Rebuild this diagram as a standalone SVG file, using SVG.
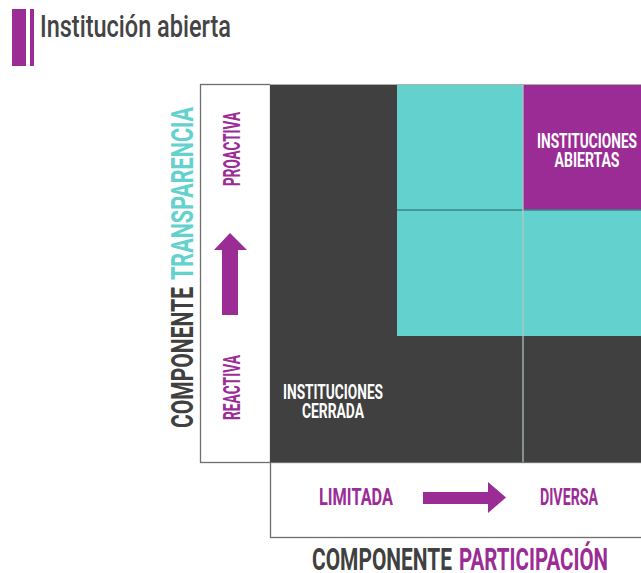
<svg xmlns="http://www.w3.org/2000/svg" width="641" height="573" viewBox="0 0 641 573">
<defs>
<style>
text{font-family:"Roboto","Liberation Sans",sans-serif;font-weight:bold;}
.w{fill:#ffffff;font-size:21px;}
.p{fill:#9b2c96;font-size:23px;}
.g{fill:#404040;}
.t{fill:#63d2cf;}
.pu{fill:#9b2c96;}
.ax{font-size:32px;}
.frame{fill:#ffffff;stroke:#6e6e6e;stroke-width:1.3;}
</style>
</defs>
<rect width="641" height="573" fill="#ffffff"/>
<g id="title">
<rect x="12" y="9" width="14" height="57" fill="#9b2c96"/>
<rect x="30" y="9" width="4" height="57" fill="#9b2c96"/>
<text x="40" y="37" font-size="31" style="font-weight:500" fill="#444444" textLength="191" lengthAdjust="spacingAndGlyphs">Institución abierta</text>
</g>
<g id="left-axis-box">
<rect class="frame" x="200.5" y="84.5" width="70" height="378"/>
</g>
<g id="bottom-axis-box">
<rect class="frame" x="270.5" y="462.5" width="380" height="75"/>
</g>
<g id="matrix">
<rect x="270" y="84" width="371" height="378" fill="#404040"/>
<rect x="397" y="84" width="244" height="252" fill="#63d2cf"/>
<rect x="523" y="84" width="118" height="126" fill="#9b2c96"/>
<line x1="397" y1="210" x2="641" y2="210" stroke="#3a8586" stroke-width="1.5"/>
<line x1="523" y1="84" x2="523" y2="462" stroke="#b8c8c8" stroke-width="1.2"/>
<line x1="270" y1="84.5" x2="641" y2="84.5" stroke="#b0b0b0" stroke-width="1"/>
</g>
<g id="node-abiertas">
<text class="w" x="587" y="148" text-anchor="middle" textLength="100" lengthAdjust="spacingAndGlyphs">INSTITUCIONES</text>
<text class="w" x="587" y="167" text-anchor="middle" textLength="65" lengthAdjust="spacingAndGlyphs">ABIERTAS</text>
</g>
<g id="node-cerrada">
<text class="w" x="333" y="399" text-anchor="middle" textLength="100" lengthAdjust="spacingAndGlyphs">INSTITUCIONES</text>
<text class="w" x="333" y="418" text-anchor="middle" textLength="62" lengthAdjust="spacingAndGlyphs">CERRADA</text>
</g>
<g id="label-proactiva">
<text class="p" transform="translate(240,149) rotate(-90)" text-anchor="middle" textLength="74" lengthAdjust="spacingAndGlyphs">PROACTIVA</text>
</g>
<g id="label-reactiva">
<text class="p" transform="translate(240,387.5) rotate(-90)" text-anchor="middle" textLength="65" lengthAdjust="spacingAndGlyphs">REACTIVA</text>
</g>
<g id="label-limitada">
<text class="p" x="356" y="505" text-anchor="middle" textLength="74" lengthAdjust="spacingAndGlyphs">LIMITADA</text>
</g>
<g id="label-diversa">
<text class="p" x="569" y="505" text-anchor="middle" textLength="58" lengthAdjust="spacingAndGlyphs">DIVERSA</text>
</g>
<g id="axis-transparencia">
<text class="ax g" transform="translate(193,428) rotate(-90)" textLength="141" lengthAdjust="spacingAndGlyphs">COMPONENTE</text>
<text class="ax t" transform="translate(193,280) rotate(-90)" textLength="173" lengthAdjust="spacingAndGlyphs">TRANSPARENCIA</text>
</g>
<g id="axis-participacion">
<text class="ax g" x="312" y="570" textLength="140" lengthAdjust="spacingAndGlyphs">COMPONENTE</text>
<text class="ax pu" x="459" y="570" textLength="149" lengthAdjust="spacingAndGlyphs">PARTICIPACIÓN</text>
</g>
<g id="connectors">
<polygon fill="#9b2c96" points="230,233 247,250 238,250 238,315 222,315 222,250 214,250"/>
<polygon fill="#9b2c96" points="506,497.5 488,482 488,492 423,492 423,504 488,504 488,513"/>
</g>
</svg>
